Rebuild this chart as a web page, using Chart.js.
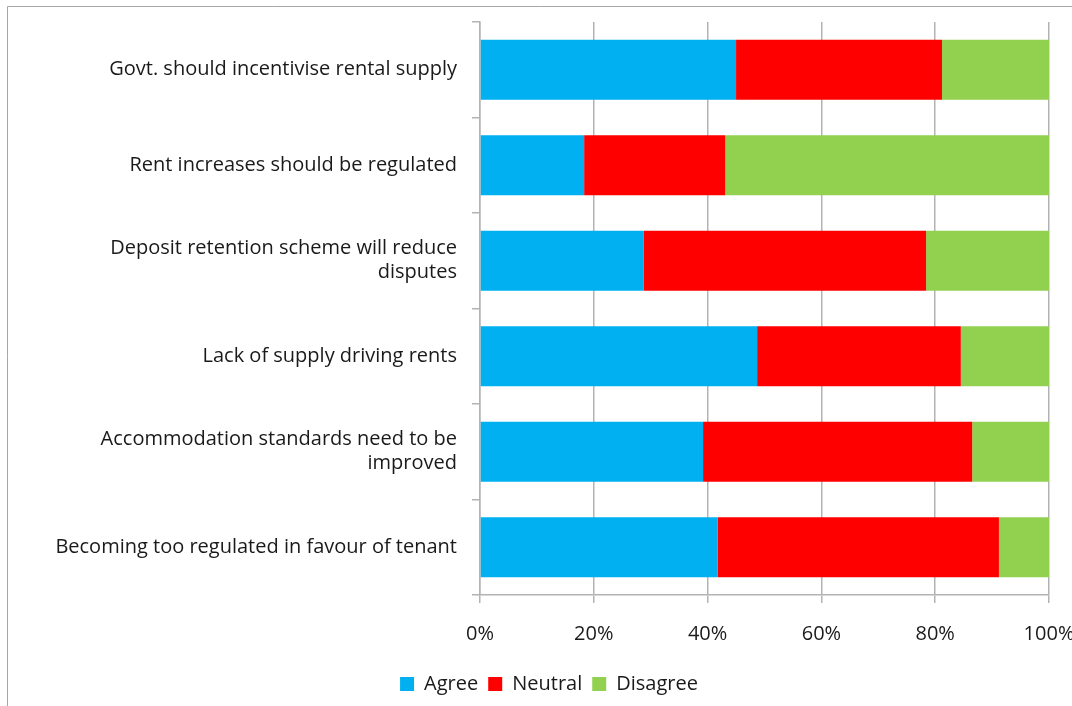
<!DOCTYPE html>
<html lang="en">
<head>
    <meta charset="UTF-8">
    <title>Landlord survey responses</title>
    <style>
        body { margin: 0; background: #fff; }
        #wrap { width: 1072px; height: 706px; }
    </style>
</head>
<body>
    <div id="wrap"><canvas id="surveyChart" width="1072" height="706"></canvas></div>

    <script src="https://cdn.jsdelivr.net/npm/chart.js"></script>
    <script>
        // Statements (top to bottom) and share of responses in percent
        const statements = [
            'Govt. should incentivise rental supply',
            'Rent increases should be regulated',
            ['Deposit retention scheme will reduce', 'disputes'],
            'Lack of supply driving rents',
            ['Accommodation standards need to be', 'improved'],
            'Becoming too regulated in favour of tenant'
        ];
        const agree    = [45.0, 18.3, 28.8, 48.7, 39.2, 41.8];
        const neutral  = [36.2, 24.8, 49.6, 35.8, 47.3, 49.4];
        const disagree = [18.8, 56.9, 21.6, 15.5, 13.5,  8.8];
        const xTicks = [0, 20, 40, 60, 80, 100];

        const fontFamily = '"Open Sans", "Noto Sans", sans-serif';
        const gridColor = '#b3b3b3';

        // Draws the thin grey frame round the chart, like the spreadsheet export
        const framePlugin = {
            id: 'frame',
            beforeDraw(chart) {
                const c = chart.ctx;
                c.save();
                c.strokeStyle = '#a6a6a6';
                c.lineWidth = 1;
                c.beginPath();
                c.moveTo(7.5, 706);
                c.lineTo(7.5, 6.5);
                c.lineTo(1072, 6.5);
                c.stroke();
                c.restore();
            }
        };

        const ctx = document.getElementById('surveyChart').getContext('2d');
        const surveyChart = new Chart(ctx, {
            type: 'bar',
            data: {
                labels: statements,
                datasets: [
                    { label: 'Agree', data: agree, backgroundColor: '#00b0f0' },
                    { label: 'Neutral', data: neutral, backgroundColor: '#ff0000' },
                    { label: 'Disagree', data: disagree, backgroundColor: '#92d050' },
                ],
            },
            options: {
                indexAxis: 'y',
                responsive: false,
                animation: false,
                categoryPercentage: 1,
                barPercentage: 0.63,
                layout: {
                    padding: { top: 22, right: 23, left: 49, bottom: 2 }
                },
                scales: {
                    x: {
                        stacked: true,
                        min: 0,
                        max: 100,
                        afterBuildTicks: (scale) => {
                            scale.ticks = xTicks.map(v => ({ value: v }));
                        },
                        afterFit: (scale) => {
                            // let "100%" hang over the plot edge as in the original
                            scale.paddingLeft = 0;
                            scale.paddingRight = 0;
                            scale.height = 69;
                        },
                        ticks: {
                            callback: (v) => v + '%',
                            color: '#1a1a1a',
                            padding: 19,
                            maxRotation: 0,
                            font: { family: fontFamily, size: 20 }
                        },
                        grid: {
                            color: gridColor,
                            tickLength: 8,
                            lineWidth: 1.5
                        },
                        border: { color: gridColor, width: 1.5 }
                    },
                    y: {
                        stacked: true,
                        afterFit: (scale) => {
                            scale.width = 431;
                            scale.paddingTop = 0;
                            scale.paddingBottom = 0;
                        },
                        ticks: {
                            color: '#1a1a1a',
                            padding: 15,
                            font: { family: fontFamily, size: 20 }
                        },
                        grid: {
                            drawOnChartArea: false,
                            color: gridColor,
                            tickLength: 8,
                            lineWidth: 1.5
                        },
                        border: { color: gridColor, width: 1.5 }
                    },
                },
                plugins: {
                    tooltip: { enabled: false },
                    legend: {
                        position: 'bottom',
                        labels: {
                            boxWidth: 14,
                            boxHeight: 14,
                            padding: 10,
                            color: '#1a1a1a',
                            font: { family: fontFamily, size: 20 }
                        }
                    }
                },
            },
            plugins: [framePlugin]
        });
    </script>
</body>
</html>
